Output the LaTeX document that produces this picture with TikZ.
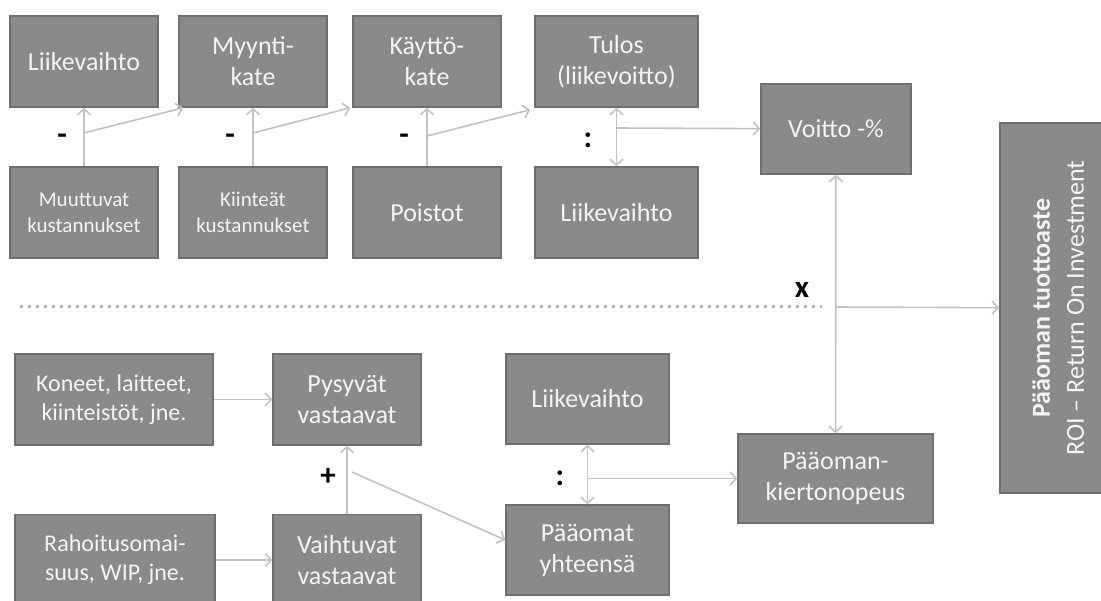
\documentclass[tikz,border=0pt]{standalone}
\usepackage{fontspec}
\setmainfont{Carlito}
\usetikzlibrary{arrows.meta}
\definecolor{boxgray}{HTML}{8A8A8A}
\definecolor{boxline}{HTML}{6E6E6E}
\definecolor{textwhite}{HTML}{F4F4F4}
\definecolor{linkgray}{HTML}{C2C2C2}
\definecolor{dotgray}{HTML}{B4B4B4}

\begin{document}
\begin{tikzpicture}[x=1pt,y=-1pt,>={Straight Barb[length=6pt,width=13pt]},
                    box/.style={rectangle,draw=boxline,fill=boxgray,line width=1.5pt,inner sep=0pt,
                      minimum width=148pt,minimum height=91pt,text=textwhite,align=center,
                      font=\fontsize{26}{31}\selectfont},
                    small box/.style={box,font=\fontsize{21}{26}\selectfont},
                    mid box/.style={box,font=\fontsize{24}{29}\selectfont},
                    link/.style={draw=linkgray,line width=1.6pt},
                    op/.style={font=\fontsize{31}{31}\selectfont\bfseries}]
  \useasboundingbox (0,0) rectangle (1101,601);
  \clip (0,0) rectangle (1101,601);
  % upper half: profit chain
  \node[box] (lvA) at (84,61.5) {Liikevaihto};
  \node[box] (mk) at (253,61.5) {Myynti-\\kate};
  \node[box] (kk) at (427,61.5) {Käyttö-\\kate};
  \node[box,minimum width=163pt] (tulos) at (616.5,61.5) {Tulos\\(liikevoitto)};
  \node[small box] (mkust) at (84,212.5) {Muuttuvat\\kustannukset};
  \node[small box] (kkust) at (253,212.5) {Kiinteät\\kustannukset};
  \node[box] (poistot) at (427,212.5) {Poistot};
  \node[box,minimum width=163pt] (lvB) at (616.5,212.5) {Liikevaihto};
  \node[box,minimum width=150pt,minimum height=90pt] (voitto) at (836,129) {Voitto -\%};
  \node[box,minimum width=120pt,minimum height=370pt,font=\fontsize{26}{34}\selectfont] (roi) at (1060,308)
    {\rotatebox{90}{\begin{tabular}{@{}c@{}}\textbf{Pääoman tuottoaste}\\ROI – Return On Investment\end{tabular}}};
  % lower half: capital turnover
  \node[mid box,minimum width=198pt] (koneet) at (114,399.5) {Koneet, laitteet,\\kiinteistöt, jne.};
  \node[box] (pysyvat) at (347,399.5) {Pysyvät\\vastaavat};
  \node[mid box,minimum width=200pt] (rahoitus) at (115,560) {Rahoitusomai-\\suus, WIP, jne.};
  \node[box] (vaihtuvat) at (347,560) {Vaihtuvat\\vastaavat};
  \node[box,minimum width=163pt,minimum height=90pt] (lvC) at (587.5,399) {Liikevaihto};
  \node[box,minimum width=163pt,minimum height=90pt] (paaomat) at (587.5,550) {Pääomat\\yhteensä};
  \node[box,minimum width=195pt,minimum height=89pt] (kierto) at (835.5,478.5) {Pääoman-\\kiertonopeus};

  \node[op] (minus1) at (62,139) {-};
  \node[op] (minus2) at (230,139) {-};
  \node[op] (minus3) at (404,139) {-};
  \node[op] (div1) at (588,140) {:};
  \node[op] (times) at (802,290) {x};
  \node[op] (plus) at (328,477) {+};
  \node[op] (div2) at (560,478) {:};

  \coordinate (j1) at (84,133);
  \coordinate (j2) at (253,133);
  \coordinate (j3) at (427,136);
  \coordinate (j4) at (616.5,128);
  \coordinate (j5) at (836,307);
  \coordinate (j6) at (352,472);
  \coordinate (j7) at (587.5,478.5);
  \coordinate (d1) at (20,307);
  \coordinate (d2) at (822,307);

  \draw[dotgray,line width=3pt,dash pattern=on 3pt off 5pt] (d1) -- (d2);
  \path[link]
    (mkust) edge[->] (lvA)
    (j1) edge[->] ([xshift=5pt]mk.south west)
    (kkust) edge[->] (mk)
    (j2) edge[->] ([xshift=-2pt]kk.south west)
    (poistot) edge[->] (kk)
    (j3) edge[->] ([xshift=-4pt,yshift=-2pt]tulos.south west)
    (tulos) edge[<->] (lvB)
    (j4) edge[->] (voitto)
    (voitto) edge[<->] (kierto)
    (j5) edge[->] (roi)
    (koneet) edge[->] (pysyvat)
    (rahoitus) edge[->] (vaihtuvat)
    (vaihtuvat) edge[->] (pysyvat)
    (j6) edge[->] ([yshift=10pt]paaomat.west)
    (lvC) edge[<->] (paaomat)
    (j7) edge[->] (kierto);
\end{tikzpicture}
\end{document}
